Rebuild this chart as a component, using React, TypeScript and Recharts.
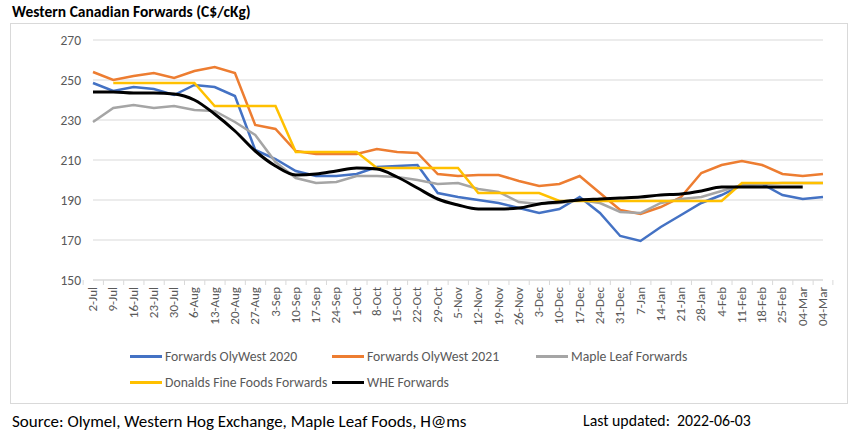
import { CartesianGrid, Line, LineChart, XAxis, YAxis } from 'recharts';

const weeks = [
  '2-Jul', '9-Jul', '16-Jul', '23-Jul', '30-Jul', '6-Aug', '13-Aug', '20-Aug', '27-Aug', '3-Sep',
  '10-Sep', '17-Sep', '24-Sep', '1-Oct', '8-Oct', '15-Oct', '22-Oct', '29-Oct', '5-Nov', '12-Nov',
  '19-Nov', '26-Nov', '3-Dec', '10-Dec', '17-Dec', '24-Dec', '31-Dec', '7-Jan', '14-Jan', '21-Jan',
  '28-Jan', '4-Feb', '11-Feb', '18-Feb', '25-Feb', '04-Mar', '04-Mar',
];

const olyWest2020 = [
  248.5, 244.5, 246.5, 245.5, 242.5, 247.5, 246.5, 242, 215, 210.5,
  204.5, 202, 202, 203, 206.5, 207, 207.5, 193.5, 191.5, 190,
  188.5, 186, 183.5, 185.5, 191.5, 183.5, 172, 169.5, 176.5, 182.5,
  188.5, 192.5, 197.5, 198, 192.5, 190.5, 191.5,
];

const olyWest2021 = [
  254, 250, 252, 253.5, 251, 254.5, 256.5, 253.5, 227.5, 225.5,
  214.5, 213, 213, 213, 215.5, 214, 213.5, 203, 202, 202.5,
  202.5, 199.5, 197, 198, 202, 193.5, 185, 183, 186.5, 191.5,
  203.5, 207.5, 209.5, 207.5, 203, 202, 203,
];

const mapleLeaf = [
  229, 236, 237.5, 236, 237, 235, 234.5, 229, 222.5, 209,
  201, 198.5, 199, 202, 202, 201.5, 200, 198, 198.5, 195.5,
  194, 189, 188, 188.5, 190, 188.5, 184, 183.5, 188.5, 190.5,
  191.5, 194.5, 197.5, 198, 198.5, 198.5, 198.5,
];

const donalds = [
  null, 248.5, 248.5, 248.5, 248.5, 248.5, 237, 237, 237, 237,
  214, 214, 214, 214, 206, 206, 206, 206, 206, 193.5,
  193.5, 193.5, 193.5, 189.5, 189.5, 189.5, 189.5, 189.5, 189.5, 189.5,
  189.5, 189.5, 198.5, 198.5, 198.5, 198.5, 198.5,
];

const whe = [
  244, 244, 243.5, 243.5, 243, 240, 233, 224.5, 214.5, 207,
  202.5, 203, 204.5, 206, 205.5, 201.5, 196, 190.5, 187.5, 185.5,
  185.5, 186, 188, 189, 190, 190.5, 191, 191.5, 192.5, 193,
  194.5, 196.5, 196.5, 196.5, 196.5, 196.5, null,
];

const yTicks = [150, 170, 190, 210, 230, 250, 270];

const series = [
  { key: 'olyWest2020', name: 'Forwards OlyWest 2020', color: '#4472C4', values: olyWest2020 },
  { key: 'olyWest2021', name: 'Forwards OlyWest 2021', color: '#ED7D31', values: olyWest2021 },
  { key: 'mapleLeaf', name: 'Maple Leaf Forwards', color: '#A5A5A5', values: mapleLeaf },
  { key: 'donalds', name: 'Donalds Fine Foods Forwards', color: '#FFC000', values: donalds },
  { key: 'whe', name: 'WHE Forwards', color: '#000000', values: whe },
];

const data = weeks.map((week, i) => {
  const row: Record<string, string | number | null> = { week };
  series.forEach((s) => {
    row[s.key] = s.values[i];
  });
  return row;
});

const FONT = 'Carlito, Lato, "Open Sans", sans-serif';
const TEXT_GREY = '#595959';
const BAND = 730 / weeks.length;

function WeekTick(props: any) {
  const { x, y, payload, index } = props;
  const isLast = index === weeks.length - 1;
  return (
    <g>
      <line x1={x - BAND / 2} y1={y} x2={x - BAND / 2} y2={y + 5} stroke="#d9d9d9" />
      {isLast ? <line x1={x + BAND / 2} y1={y} x2={x + BAND / 2} y2={y + 5} stroke="#d9d9d9" /> : null}
      <text
        transform={`translate(${x + 4},${y + 7}) rotate(-90)`}
        textAnchor="end"
        fontSize={13}
        fill={TEXT_GREY}
        fontFamily={FONT}
      >
        {payload.value}
      </text>
    </g>
  );
}

const legendItems = [
  { s: series[0], left: 130, top: 356 },
  { s: series[1], left: 332, top: 356 },
  { s: series[2], left: 536, top: 356 },
  { s: series[3], left: 130, top: 382 },
  { s: series[4], left: 332, top: 382 },
];

export default function App() {
  return (
    <div
      style={{
        position: 'absolute',
        left: 0,
        top: 0,
        width: 855,
        height: 441,
        background: '#fff',
        fontFamily: FONT,
      }}
    >
      <div style={{ position: 'absolute', left: 12, top: 2, fontSize: 15.5, fontWeight: 700, color: '#000', whiteSpace: 'nowrap' }}>
        Western Canadian Forwards (C$/cKg)
      </div>
      <div
        style={{
          position: 'absolute',
          left: 10,
          top: 23,
          width: 836,
          height: 379,
          border: '1px solid #d9d9d9',
        }}
      />
      <div style={{ position: 'absolute', left: 0, top: 0 }}>
        <LineChart width={855} height={441} data={data} margin={{ top: 40, right: 32, left: 33, bottom: 111 }}>
          <CartesianGrid vertical={false} stroke="#d9d9d9" />
          <XAxis
            dataKey="week"
            interval={0}
            height={50}
            tickSize={0}
            tickMargin={0}
            tickLine={false}
            stroke="#d9d9d9"
            tick={<WeekTick />}
          />
          <YAxis
            domain={[150, 270]}
            ticks={yTicks}
            width={60}
            axisLine={false}
            tickLine={false}
            tickSize={6}
            tickMargin={6}
            tick={{ fontSize: 13.5, fill: TEXT_GREY, fontFamily: FONT }}
          />
          {series.map((s) => (
            <Line
              key={s.key}
              dataKey={s.key}
              name={s.name}
              type={s.key === 'whe' ? 'monotone' : 'linear'}
              stroke={s.color}
              strokeWidth={s.key === 'whe' ? 3 : 2.5}
              dot={false}
              activeDot={false}
              isAnimationActive={false}
            />
          ))}
        </LineChart>
      </div>
      {legendItems.map(({ s, left, top }) => (
        <div
          key={s.key}
          style={{
            position: 'absolute',
            left,
            top: top - 9,
            height: 18,
            display: 'flex',
            alignItems: 'center',
            whiteSpace: 'nowrap',
            fontSize: 13.7,
            color: TEXT_GREY,
          }}
        >
          <span style={{ display: 'inline-block', width: 32, height: 3, background: s.color, marginRight: 3 }} />
          {s.name}
        </div>
      ))}
      <div style={{ position: 'absolute', left: 12, top: 411, fontSize: 17, color: '#000', whiteSpace: 'nowrap' }}>
        Source: Olymel, Western Hog Exchange, Maple Leaf Foods, H@ms
      </div>
      <div style={{ position: 'absolute', left: 583, top: 411, fontSize: 15.8, color: '#000', whiteSpace: 'nowrap' }}>
        Last updated:&nbsp; 2022-06-03
      </div>
    </div>
  );
}
